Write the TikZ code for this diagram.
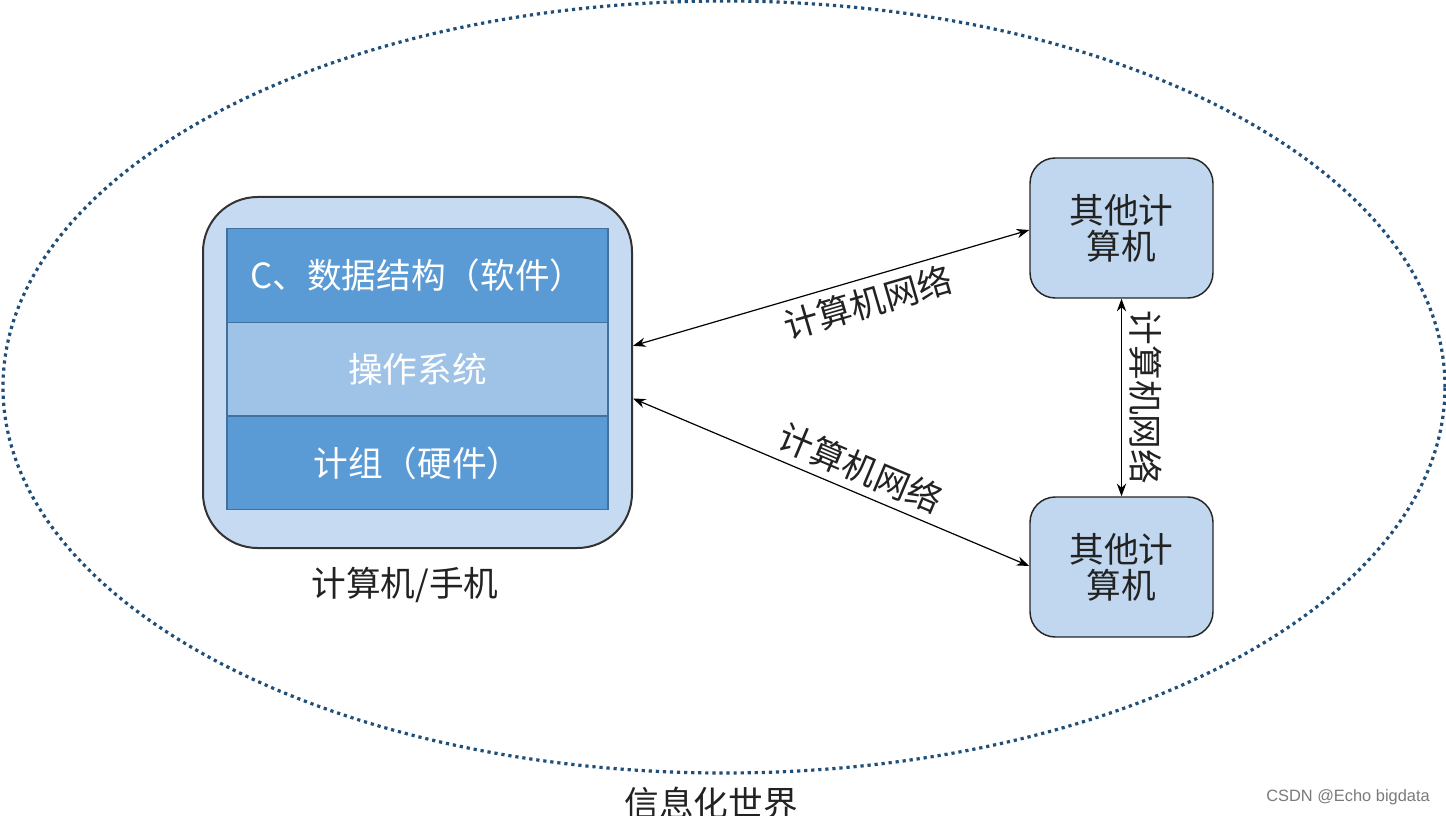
\documentclass[tikz,border=0pt]{standalone}
\usepackage{fontspec}
\setmainfont{Noto Sans CJK SC}
\newfontfamily\wmfont{Liberation Sans}
\usetikzlibrary{arrows.meta,calc}
\definecolor{outerfill}{HTML}{C6DAF1}
\definecolor{darklayer}{HTML}{5B9BD5}
\definecolor{midlayer}{HTML}{9FC3E7}
\definecolor{layerline}{HTML}{41719C}
\definecolor{otherfill}{HTML}{C0D7EF}
\definecolor{dotcol}{HTML}{1F4E79}
\definecolor{wmgray}{HTML}{7A7A7A}
\definecolor{txtgray}{HTML}{222222}
\tikzset{
  bigfont/.style={font=\fontsize{26}{27}\selectfont},
  outerbox/.style={draw=black!80, line width=1.5pt, fill=outerfill, rounded corners=41pt,
    minimum width=321.75pt, minimum height=263.25pt, inner sep=0pt},
  layer/.style={draw=layerline, line width=0.8pt, minimum width=285.75pt, minimum height=70.3pt,
    inner sep=0pt, text=white, bigfont},
  otherbox/.style={draw=black!85, line width=1.1pt, fill=otherfill, rounded corners=19pt,
    minimum width=137.25pt, minimum height=105pt, inner sep=0pt, align=center, text=txtgray, bigfont},
  netarrow/.style={{Stealth[length=9.5pt,width=7pt]}-{Stealth[length=9.5pt,width=7pt]}, line width=0.9pt, black},
  netlabel/.style={sloped, bigfont, text=txtgray, inner sep=5.5pt},
  world/.style={draw=dotcol, line width=2.4pt, dash pattern=on 2.4pt off 2.9pt}
}
\begin{document}
\begin{tikzpicture}[x=0.75pt,y=-0.75pt]
\useasboundingbox (0,0) rectangle (1446,816);
\fill[white] (0,0) rectangle (1446,816);
\draw[world] (724,387) ellipse [x radius=540.75pt, y radius=289.5pt];

\node[outerbox] (pc) at (417.5,372.5) {};
\node[layer, fill=darklayer] (sw) at (417.5,275.5) {C、数据结构（软件）};
\node[layer, fill=midlayer] (os) at (417.5,369) {操作系统};
\node[layer, fill=darklayer] (hw) at (417.5,463) {计组（硬件）};
\node[bigfont, text=txtgray] (pclabel) at (405,585) {计算机/手机};

\node[otherbox] (oa) at (1121.5,228) {其他计\\算机};
\node[otherbox] (ob) at (1121.5,567) {其他计\\算机};

\draw[netarrow] ([yshift=20pt]pc.east) -- ([yshift=-1.5pt]oa.west)
  node[netlabel, pos=0.575, below] (la) {计算机网络};
\draw[netarrow] ([yshift=-19.5pt]pc.east) -- ([yshift=0.75pt]ob.west)
  node[netlabel, pos=0.55, above] (lb) {计算机网络};
\draw[netarrow] (oa.south) -- (ob.north)
  node[netlabel, pos=0.5, above] (lc) {计算机网络};

\node[bigfont, text=txtgray] (world) at (711,803) {信息化世界};
\node[font=\wmfont\fontsize{12.3}{14}\selectfont, text=wmgray] (wm) at (1348,797) {CSDN @Echo bigdata};
\end{tikzpicture}
\end{document}
